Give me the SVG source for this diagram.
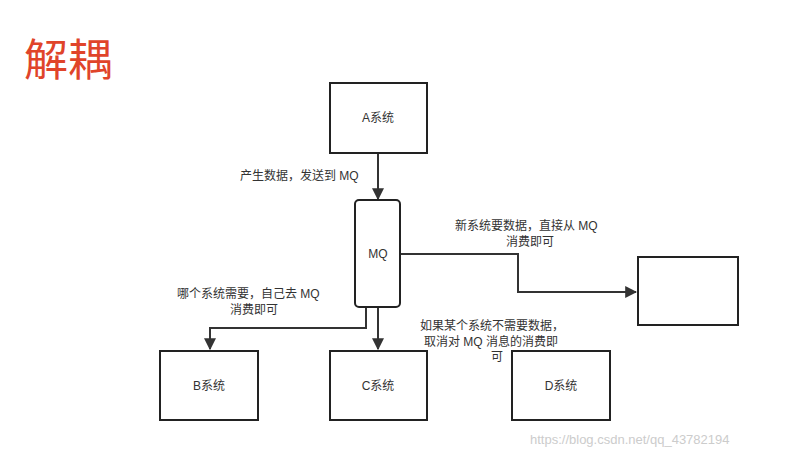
<svg xmlns="http://www.w3.org/2000/svg" width="805" height="457" viewBox="0 0 805 457">
<defs>
<style>
.box{fill:#fff;stroke:#222;stroke-width:2}
.t{font-family:"Liberation Sans","Noto Sans CJK SC",sans-serif;font-size:12px;fill:#333}
.c{fill:none;stroke:#333;stroke-width:2}
</style>
<marker id="ar" viewBox="0 0 10 10" refX="9" refY="5" markerWidth="6" markerHeight="6" orient="auto"><path d="M0,0L10,5L0,10z" fill="#333"/></marker>
</defs>
<rect width="805" height="457" fill="#fff"/>
<text x="24" y="76" font-family="Noto Sans CJK SC,sans-serif" font-size="44" fill="#e0442a">解耦</text>
<g id="conn">
<path class="c" d="M378,153V199" marker-end="url(#ar)"/>
<path class="c" d="M366,307V328H210V349" marker-end="url(#ar)"/>
<path class="c" d="M378,307V349" marker-end="url(#ar)"/>
<path class="c" d="M400,254H518V292H636" marker-end="url(#ar)"/>
</g>
<g id="A"><rect class="box" x="330" y="83" width="97" height="70"/><text class="t" x="378" y="122" text-anchor="middle">A系统</text></g>
<g id="MQ"><rect class="box" x="355" y="200" width="45" height="107" rx="4"/><text class="t" x="378" y="258" text-anchor="middle">MQ</text></g>
<g id="N"><rect class="box" x="638" y="257" width="100" height="68"/></g>
<g id="B"><rect class="box" x="160" y="351" width="98" height="69"/><text class="t" x="209" y="390" text-anchor="middle">B系统</text></g>
<g id="C"><rect class="box" x="330" y="351" width="97" height="69"/><text class="t" x="378" y="390" text-anchor="middle">C系统</text></g>
<g id="D"><rect class="box" x="512" y="351" width="98" height="69"/><text class="t" x="561" y="390" text-anchor="middle">D系统</text></g>
<g id="labels">
<text class="t" x="240" y="180">产生数据，发送到 MQ</text>
<text class="t" x="455" y="230">新系统要数据，直接从 MQ</text>
<text class="t" x="506" y="246">消费即可</text>
<text class="t" x="177" y="298">哪个系统需要，自己去 MQ</text>
<text class="t" x="230" y="314">消费即可</text>
<text class="t" x="420" y="330">如果某个系统不需要数据，</text>
<text class="t" x="424" y="346">取消对 MQ 消息的消费即</text>
<text class="t" x="491" y="361">可</text>
<text x="530" y="444" font-family="Liberation Sans,sans-serif" font-size="13" fill="#ccc">https://blog.csdn.net/qq_43782194</text>
</g>
</svg>
